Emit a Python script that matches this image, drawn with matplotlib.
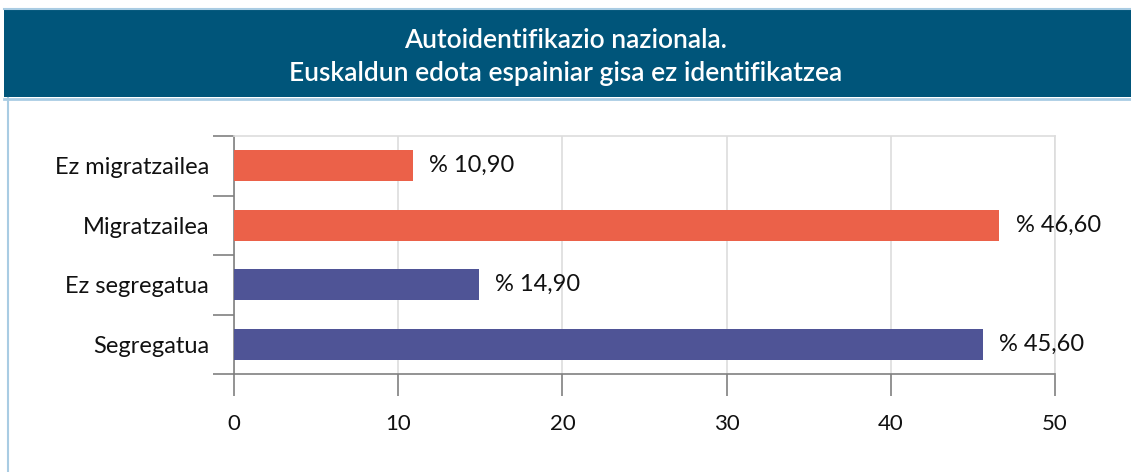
import matplotlib.pyplot as plt
from matplotlib.patches import Rectangle
from matplotlib.lines import Line2D

plt.rcParams['font.family'] = ['Lato', 'DejaVu Sans']

# data (bottom to top)
categories = ["Segregatua", "Ez segregatua", "Migratzailea", "Ez migratzailea"]
values = [45.6, 14.9, 46.6, 10.9]
colors = ["#4F5496", "#4F5496", "#EB6149", "#EB6149"]
x_ticks = [0, 10, 20, 30, 40, 50]

W, H = 1131, 472
fig = plt.figure(figsize=(W / 100, H / 100), dpi=100)

# header banner and frame lines
fig.patches.append(Rectangle((4 / W, 1 - 97 / H), 1, 87 / H, transform=fig.transFigure,
                             facecolor="#00557A", edgecolor="none", zorder=0))
fig.lines.append(Line2D([4 / W, 1], [1 - 9 / H, 1 - 9 / H], transform=fig.transFigure,
                        color="#A9CCE3", lw=1.5))
fig.lines.append(Line2D([4 / W, 1], [1 - 98.5 / H, 1 - 98.5 / H], transform=fig.transFigure,
                        color="#A9CCE3", lw=2))
fig.lines.append(Line2D([8 / W, 8 / W], [0, 1 - 98 / H], transform=fig.transFigure,
                        color="#A9CCE3", lw=1.5))
fig.text(0.5, 1 - 57 / H, "Autoidentifikazio nazionala.\nEuskaldun edota espainiar gisa ez identifikatzea",
         ha="center", va="center", color="white", fontsize=19, fontweight="semibold",
         linespacing=1.4)

ax = fig.add_axes([234 / W, 98 / H, 821 / W, 238 / H])
y = range(len(categories))
ax.barh(y, values, height=0.52, color=colors, zorder=3)
for yi, v in zip(y, values):
    ax.text(v + 1.0, yi, "% " + f"{v:.2f}".replace(".", ","), va="center", ha="left",
            fontsize=17, color="#111111", zorder=4)

ax.set_xlim(0, 50)
ax.set_ylim(-0.5, len(categories) - 0.5)
ax.set_xticks(x_ticks)
ax.set_yticks(list(y))
ax.set_yticklabels(categories)
ax.set_yticks([i - 0.5 for i in range(len(categories) + 1)], minor=True)
ax.grid(axis="x", color="#DDDDDD", lw=1.2, zorder=0)
ax.tick_params(axis="y", which="major", length=0, pad=18, labelsize=17, labelcolor="#111111")
ax.tick_params(axis="y", which="minor", length=15, width=1.2, color="#808080")
ax.tick_params(axis="x", which="major", length=16, width=1.2, color="#808080", pad=13,
               labelsize=16, labelcolor="#111111")
for s in ["left", "bottom"]:
    ax.spines[s].set_color("#808080")
    ax.spines[s].set_linewidth(1.2)
for s in ["top", "right"]:
    ax.spines[s].set_color("#DDDDDD")
    ax.spines[s].set_linewidth(1.2)

fig.savefig("out.png", dpi=100)
